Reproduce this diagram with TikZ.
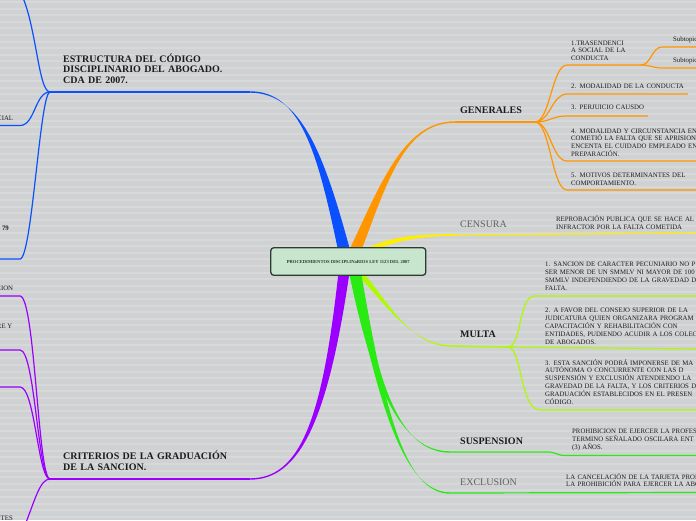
\documentclass[tikz,border=0pt]{standalone}
\usepackage{fontspec}
\setmainfont{Liberation Serif}
\usetikzlibrary{calc}
\usetikzlibrary{backgrounds}

\definecolor{paper}{RGB}{208,209,211}
\definecolor{stripe}{RGB}{215,216,218}
\definecolor{rootfill}{RGB}{200,230,205}
\definecolor{rootedge}{RGB}{45,60,48}
\definecolor{bluebr}{RGB}{10,80,255}
\definecolor{orangebr}{RGB}{255,150,0}
\definecolor{yellowbr}{RGB}{255,238,0}
\definecolor{limebr}{RGB}{175,250,0}
\definecolor{greenbr}{RGB}{40,235,20}
\definecolor{purplebr}{RGB}{155,0,255}
\definecolor{ink}{RGB}{28,28,28}

\newcommand\bough[6]{%
  \fill[#1] ($(#2)+(-#6,0)$) .. controls ($(#3)+(-0.5*#6,0)$) and ($(#4)+(0,-0.7)$) .. ($(#5)+(0,-0.7)$)
    -- ($(#5)+(0,0.7)$) .. controls ($(#4)+(0,0.7)$) and ($(#3)+(0.5*#6,0)$) .. ($(#2)+(#6,0)$) -- cycle;}

\begin{document}
\begin{tikzpicture}[x=1pt,y=-1pt,
    root/.style={draw=rootedge, fill=rootfill, line width=1.3pt, rounded corners=3pt, minimum width=155pt, minimum height=27.5pt, inner sep=0pt, text=rootedge, font=\fontsize{4.6}{5}\selectfont\bfseries},
    topic/.style={anchor=base west, inner sep=0pt, text width=220pt, align=left, text=ink, font=\fontsize{10}{10.9}\selectfont\bfseries},
    soft/.style={anchor=base west, inner sep=0pt, text=black!62, font=\fontsize{10}{11}\selectfont},
    leaf/.style={anchor=base west, inner sep=0pt, text width=200pt, align=left, text=ink, font=\fontsize{6.8}{7.9}\selectfont},
    stub/.style={anchor=base east, inner sep=0pt, text=ink, font=\fontsize{6.8}{7.9}\selectfont},
    rule/.style={line width=1.5pt},
    twig/.style={line width=1.2pt}]
\useasboundingbox (0,0) rectangle (696,520);

\node[root] (root) at (348.3,261.5) {PROCEDIMIENTOS DISCIPLINaRIOS LEY 1123 DEL 2007};

\coordinate (bstart) at ($(root.north)+(-4.5,2)$);
\coordinate (ostart) at ($(root.north)+(7.5,2)$);
\coordinate (ystart) at ($(root.north)+(22,2)$);
\coordinate (pstart) at ($(root.south)+(-4.5,-2)$);
\coordinate (gstart) at ($(root.south)+(6,-2)$);
\coordinate (hstart) at ($(root.south)+(8,-2)$);
\coordinate (lstart) at ($(root.south)+(12,-2)$);

\coordinate (estr) at (250,92);  \coordinate (estrj) at (50,92);
\coordinate (b1) at (10,-20);
\coordinate (b2) at (20,125.5);  \coordinate (b2e) at (-2,125.5);
\coordinate (b3) at (20,259);    \coordinate (b3e) at (-2,259);

\coordinate (gen) at (455,122);  \coordinate (genj) at (535,122);
\coordinate (o1) at (567,65);    \coordinate (o1e) at (641,65);
\coordinate (o1a) at (662,47);   \coordinate (o1ae) at (698,47);
\coordinate (o1b) at (662,68);   \coordinate (o1be) at (698,68);
\coordinate (o2) at (567,94);    \coordinate (o2e) at (688,94);
\coordinate (o3) at (567,116);   \coordinate (o3e) at (648,116);
\coordinate (o4) at (567,161);   \coordinate (o4e) at (698,161);
\coordinate (o5) at (567,190);   \coordinate (o5e) at (698,190);

\coordinate (cen) at (455,235);  \coordinate (cene) at (698,233);

\coordinate (mul) at (452,346);  \coordinate (mulj) at (508,347);
\coordinate (l1) at (535,296);   \coordinate (l1e) at (698,296);
\coordinate (l2e) at (698,349);
\coordinate (l3) at (540,410);   \coordinate (l3e) at (698,410);

\coordinate (sus) at (450,452);  \coordinate (susk) at (548,452);
\coordinate (susl) at (565,455.5); \coordinate (suse) at (698,455.5);
\coordinate (exc) at (450,493);  \coordinate (exce) at (698,492.5);

\coordinate (cri) at (250,479);  \coordinate (crij) at (50,479);
\coordinate (p1) at (20,296);    \coordinate (p1e) at (-2,296);
\coordinate (p2) at (20,350);    \coordinate (p2e) at (-2,350);
\coordinate (p3) at (20,387);    \coordinate (p3e) at (-2,387);
\coordinate (p4) at (25,525);

\begin{scope}[on background layer]
  \fill[paper] (0,0) rectangle (696,520);
  \foreach \y in {2,8.6,...,520} \draw[stripe, line width=2pt] (0,\y) -- (696,\y);

  \bough{bluebr}{bstart}{320,150}{300,92}{estr}{6}
  \draw[rule, bluebr] (estr) -- (estrj);
  \draw[twig, bluebr] (estrj) .. controls +(-14,0) and +(26,15) .. (b1);
  \draw[twig, bluebr] (estrj) .. controls +(-15,0) and +(15,0) .. (b2) -- (b2e);
  \draw[twig, bluebr] (estrj) .. controls +(-10,0) and +(12,0) .. (b3) -- (b3e);

  \bough{orangebr}{ostart}{385,180}{405,122}{gen}{6}
  \draw[rule, orangebr] (gen) -- (genj);
  \draw[twig, orangebr] (genj) .. controls +(15,0) and +(-15,0) .. (o1) -- (o1e);
  \draw[twig, orangebr] (o1e) .. controls +(10,0) and +(-10,0) .. (o1a) -- (o1ae);
  \draw[twig, orangebr] (o1e) .. controls +(10,0) and +(-10,0) .. (o1b) -- (o1be);
  \draw[twig, orangebr] (genj) .. controls +(15,0) and +(-15,0) .. (o2) -- (o2e);
  \draw[twig, orangebr] (genj) .. controls +(15,0) and +(-15,0) .. (o3) -- (o3e);
  \draw[twig, orangebr] (genj) .. controls +(15,0) and +(-15,0) .. (o4) -- (o4e);
  \draw[twig, orangebr] (genj) .. controls +(15,0) and +(-15,0) .. (o5) -- (o5e);

  \fill[yellowbr] ($(ystart)+(0,-2.5)$) .. controls (395,236) and (420,234) .. ($(cen)+(0,-0.8)$)
    -- ($(cen)+(0,0.8)$) .. controls (420,236) and (395,241) .. ($(ystart)+(0,2.5)$) -- cycle;
  \draw[twig, yellowbr] (cen) -- (cene);

  \bough{limebr}{lstart}{385,300}{410,346}{mul}{4}
  \draw[rule, limebr] (mul) -- (mulj);
  \draw[twig, limebr] (mulj) .. controls +(14,0) and +(-17,0) .. (l1) -- (l1e);
  \draw[twig, limebr] (mulj) -- (l2e);
  \draw[twig, limebr] (mulj) .. controls +(14,0) and +(-20,0) .. (l3) -- (l3e);

  \bough{greenbr}{gstart}{375,385}{400,452}{sus}{5}
  \bough{greenbr}{hstart}{382,410}{405,493}{exc}{5}
  \draw[twig, greenbr] (sus) -- (susk) .. controls +(8,0) and +(-8,0) .. (susl) -- (suse);
  \draw[twig, greenbr] (exc) -- (exce);

  \bough{purplebr}{pstart}{325,420}{300,479}{cri}{5.5}
  \draw[rule, purplebr] (cri) -- (crij);
  \draw[twig, purplebr] (crij) .. controls +(-12,0) and +(15,0) .. (p1) -- (p1e);
  \draw[twig, purplebr] (crij) .. controls +(-12,0) and +(15,0) .. (p2) -- (p2e);
  \draw[twig, purplebr] (crij) .. controls +(-12,0) and +(15,0) .. (p3) -- (p3e);
  \draw[twig, purplebr] (crij) .. controls +(-10,0) and +(10,-25) .. (p4);
\end{scope}

\node[topic] (estructura) at (63,62) {ESTRUCTURA DEL CÓDIGO\\DISCIPLINARIO DEL ABOGADO.\\CDA DE 2007.};
\node[stub] (cial) at (13.3,120.7) {CIAL};
\node[stub, font=\fontsize{6.8}{7.9}\selectfont\bfseries] (setenta) at (9,230.7) {79};

\node[topic] (generales) at (460,113) {GENERALES};
\node[leaf] (trascendencia) at (571,45) {1.TRASENDENCI\\A SOCIAL DE LA\\CONDUCTA};
\node[leaf] (subtopica) at (673,41.7) {Subtopic};
\node[leaf] (subtopicb) at (673,62.3) {Subtopic};
\node[leaf] (modalidad) at (571,88.3) {2. MODALIDAD DE LA CONDUCTA};
\node[leaf] (perjuicio) at (571,109.3) {3. PERJUICIO CAUSDO};
\node[leaf] (circunstancia) at (571,133) {4. MODALIDAD Y CIRCUNSTANCIA EN\\COMETIÓ LA FALTA  QUE SE APRISION\\ENCENTA EL CUIDADO EMPLEADO EN\\PREPARACIÓN.};
\node[leaf] (motivos) at (571,177.3) {5. MOTIVOS DETERMINANTES  DEL\\COMPORTAMIENTO.};

\node[soft] (censura) at (460,227) {CENSURA};
\node[leaf] (reprobacion) at (556,221.7) {REPROBACIÓN PUBLICA  QUE SE HACE  AL\\INFRACTOR POR LA FALTA COMETIDA};

\node[topic] (multa) at (460,337) {MULTA};
\node[leaf] (pecuniario) at (545,266.7) {1. SANCION DE CARACTER PECUNIARIO  NO P\\SER MENOR DE UN SMMLV NI MAYOR DE 100\\SMMLV INDEPENDIENDO DE LA GRAVEDAD  D\\FALTA.};
\node[leaf] (consejo) at (545,312.7) {2. A  FAVOR DEL CONSEJO SUPERIOR DE LA\\JUDICATURA QUIEN ORGANIZARA  PROGRAM\\CAPACITACIÓN  Y REHABILITACIÓN  CON\\ENTIDADES, PUDIENDO ACUDIR A LOS COLEC\\DE ABOGADOS.};
\node[leaf] (autonoma) at (545,365) {3. ESTA SANCIÓN  PODRÁ IMPONERSE  DE  MA\\AUTÓNOMA  O  CONCURRENTE  CON LAS  D\\SUSPENSIÓN Y EXCLUSIÓN ATENDIENDO LA\\GRAVEDAD DE LA FALTA,  Y LOS CRITERIOS D\\GRADUACIÓN ESTABLECIDOS  EN EL PRESEN\\CÓDIGO.};

\node[topic] (suspension) at (460,444) {SUSPENSION};
\node[leaf] (prohibicion) at (572,433.3) {PROHIBICION DE EJERCER LA PROFES\\TERMINO SEÑALADO OSCILARA  ENT\\(3) AÑOS.};

\node[soft] (exclusion) at (460,485) {EXCLUSION};
\node[leaf] (cancelacion) at (566,479) {LA CANCELACIÓN DE LA TARJETA PROF\\LA PROHIBICIÓN PARA EJERCER LA ABO};

\node[topic] (criterios) at (63,459.5) {CRITERIOS DE LA GRADUACIÓN\\DE LA SANCION.};
\node[stub] (cion) at (13.3,290.7) {CION};
\node[stub] (rey) at (12.5,328.3) {RE Y};
\node[stub] (tes) at (13,520.5) {TES};
\end{tikzpicture}
\end{document}
